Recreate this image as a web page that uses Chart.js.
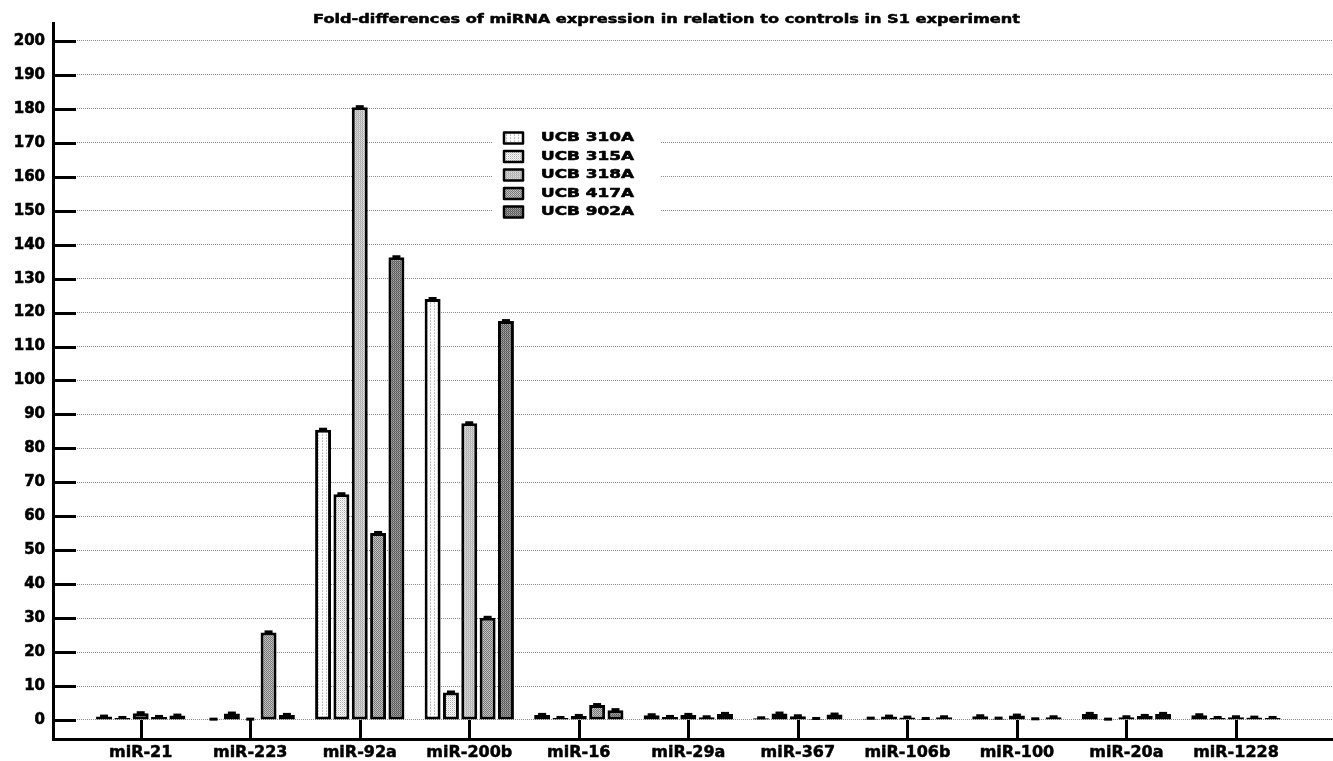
<!DOCTYPE html>
<html>
<head>
<meta charset="utf-8">
<script src="https://cdn.jsdelivr.net/npm/chart.js@4.4.0/dist/chart.umd.min.js"></script>
<style>
  html, body { margin: 0; padding: 0; background: #fff; }
  canvas { display: block; }
</style>
</head>
<body>
<canvas id="chart" width="1333" height="761"></canvas>
<script>
const title = 'Fold-differences of miRNA expression in relation to controls in S1 experiment';
const categories = ['miR-21', 'miR-223', 'miR-92a', 'miR-200b', 'miR-16', 'miR-29a', 'miR-367', 'miR-106b', 'miR-100', 'miR-20a', 'miR-1228'];
const seriesNames = ['UCB 310A', 'UCB 315A', 'UCB 318A', 'UCB 417A', 'UCB 902A'];
const ucb310A = [1.0, 0.1, 85.5, 124.0, 1.5, 1.4, 0.5, 0.4, 1.1, 1.8, 1.4];
const ucb315A = [0.6, 1.9, 66.5, 8.1, 0.6, 0.9, 1.9, 1.0, 0.4, 0.1, 0.6];
const ucb318A = [2.0, 0.1, 180.5, 87.4, 1.2, 1.5, 1.1, 0.7, 1.3, 0.8, 0.8];
const ucb417A = [0.9, 25.8, 55.1, 30.1, 4.4, 0.8, 0.3, 0.3, 0.2, 1.2, 0.7];
const ucb902A = [1.3, 1.5, 136.3, 117.5, 2.9, 1.8, 1.6, 0.8, 0.8, 1.8, 0.6];
const yTicks = [0, 10, 20, 30, 40, 50, 60, 70, 80, 90, 100, 110, 120, 130, 140, 150, 160, 170, 180, 190, 200];

const FONT = 'DejaVu Sans';

// small pixel patterns for the stippled bar fills
function makePattern(rows) {
  const c = document.createElement('canvas');
  c.width = rows[0].length;
  c.height = rows.length;
  const g = c.getContext('2d');
  rows.forEach((row, j) => row.forEach((col, i) => { g.fillStyle = col; g.fillRect(i, j, 1, 1); }));
  return g.createPattern(c, 'repeat');
}

const fills = [
  makePattern([['#fff', '#fff', '#bbb', '#fff'], ['#fff', '#fff', '#fff', '#fff'], ['#fff', '#fff', '#ccc', '#fff']]),
  makePattern([['#aaa', '#fff'], ['#fff', '#d8d8d8']]),
  makePattern([['#aaa', '#ddd'], ['#c4c4c4', '#bbb']]),
  makePattern([['#777', '#c8c8c8'], ['#bbb', '#7a7a7a']]),
  makePattern([['#555', '#a8a8a8'], ['#888', '#666']])
];

const seriesValues = [ucb310A, ucb315A, ucb318A, ucb417A, ucb902A];

function stretchText(ctx, text, x, y, k) {
  ctx.save();
  ctx.translate(x, y);
  ctx.scale(k, 1);
  ctx.strokeText(text, 0, 0);
  ctx.fillText(text, 0, 0);
  ctx.restore();
}

const decorations = {
  id: 'decorations',
  beforeDatasetsDraw(chart) {
    const { ctx, chartArea, scales: { x, y } } = chart;
    ctx.save();
    // legend backdrop hides the grid
    ctx.fillStyle = '#fff';
    ctx.fillRect(492, 126, 168, 97);
    ctx.strokeStyle = '#000';
    ctx.lineWidth = 3;
    ctx.beginPath();
    y.ticks.forEach(t => {
      const py = Math.round(y.getPixelForValue(t.value)) + 0.5;
      ctx.moveTo(chartArea.left, py);
      ctx.lineTo(chartArea.left + 23, py);
    });
    const y0 = y.getPixelForValue(0);
    x.ticks.forEach(t => {
      const px = Math.round(x.getPixelForValue(t.value)) + 0.5;
      ctx.moveTo(px, chartArea.bottom);
      ctx.lineTo(px, y0);
    });
    ctx.stroke();
    ctx.restore();
  },
  afterDatasetsDraw(chart) {
    const ctx = chart.ctx;
    ctx.save();
    ctx.fillStyle = '#000';
    chart.data.datasets.forEach((ds, i) => {
      chart.getDatasetMeta(i).data.forEach(bar => {
        ctx.fillRect(bar.x - 4, bar.y - 2, 8, 3);
      });
    });
    ctx.restore();
  },
  afterDraw(chart) {
    const ctx = chart.ctx;
    ctx.save();
    ctx.fillStyle = '#000';
    ctx.strokeStyle = '#000';
    ctx.lineWidth = 0.5;
    ctx.lineJoin = 'round';
    ctx.textBaseline = 'alphabetic';
    ctx.textAlign = 'left';
    ctx.font = 'bold 12.5px "' + FONT + '"';
    const tw = ctx.measureText(title).width;
    stretchText(ctx, title, 313, 23, 707 / tw);

    // legend
    ctx.font = 'bold 12.5px "' + FONT + '"';
    ctx.textBaseline = 'middle';
    const k = 93 / ctx.measureText(seriesNames[0]).width;
    chart.data.datasets.forEach((ds, i) => {
      const cy = 138 + i * 18.5;
      ctx.fillStyle = ds.backgroundColor;
      ctx.fillRect(504, cy - 5.5, 19, 11);
      ctx.strokeStyle = '#000';
      ctx.lineWidth = 2.5;
      ctx.strokeRect(504, cy - 5.5, 19, 11);
      ctx.fillStyle = '#000';
      ctx.lineWidth = 0.6;
      stretchText(ctx, ds.label, 541, cy, k);
    });
    ctx.restore();
  }
};

new Chart(document.getElementById('chart'), {
  type: 'bar',
  data: {
    datasets: seriesNames.map((name, i) => ({
      label: name,
      data: seriesValues[i].map((v, j) => ({ x: j, y: v })),
      backgroundColor: fills[i],
      borderColor: '#000',
      borderWidth: 3,
      borderSkipped: false,
      barPercentage: 0.87,
      categoryPercentage: 0.837
    }))
  },
  options: {
    responsive: false,
    animation: false,
    devicePixelRatio: 1,
    layout: { padding: { top: 23, left: 0, right: 0, bottom: 0 } },
    scales: {
      x: {
        type: 'linear',
        min: -0.8007,
        max: 10.886,
        offset: false,
        afterBuildTicks: s => { s.ticks = categories.map((c, i) => ({ value: i })); },
        afterFit: s => { s.height = 22; s.paddingLeft = 0; s.paddingRight = 0; },
        ticks: {
          callback: v => categories[v],
          autoSkip: false,
          maxRotation: 0,
          padding: 4,
          color: '#000',
          textStrokeColor: '#000',
          textStrokeWidth: 0.5,
          font: { family: FONT, size: 16, weight: 'bold' }
        },
        grid: { drawOnChartArea: false, drawTicks: false, offset: false },
        border: { display: true, color: '#000', width: 3 }
      },
      y: {
        min: -5.6,
        max: 205.3,
        afterBuildTicks: s => { s.ticks = yTicks.map(v => ({ value: v })); },
        afterFit: s => { s.width = 53; s.paddingTop = 0; s.paddingBottom = 0; },
        ticks: {
          padding: 8,
          color: '#000',
          textStrokeColor: '#000',
          textStrokeWidth: 0.6,
          font: { family: FONT, size: 15, weight: 'bold' }
        },
        grid: { color: '#8a8a8a', lineWidth: 1, drawTicks: false },
        border: { display: true, color: '#000', width: 3, dash: [1, 1] }
      }
    },
    plugins: {
      legend: { display: false },
      tooltip: { enabled: false }
    }
  },
  plugins: [decorations]
});
</script>
</body>
</html>
